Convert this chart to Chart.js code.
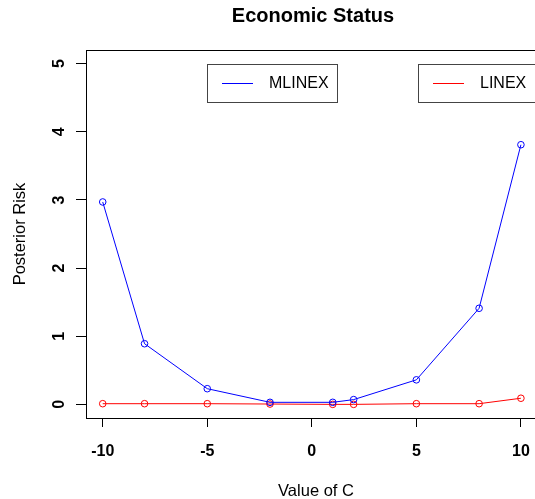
<!DOCTYPE html>
<html>
<head>
<meta charset="utf-8">
<script src="https://cdn.jsdelivr.net/npm/chart.js@4/dist/chart.umd.min.js"></script>
<style>
  html, body { margin: 0; padding: 0; background: #fff; overflow: hidden; }
  #wrap { width: 545px; height: 499px; }
</style>
</head>
<body>
<div id="wrap"><canvas id="c" width="545" height="499"></canvas></div>
<script>
const cValues = [-10, -8, -5, -2, 1, 2, 5, 8, 10];
const mlinex = [2.97, 0.89, 0.23, 0.03, 0.03, 0.07, 0.36, 1.41, 3.81];
const linex = [0.01, 0.01, 0.01, 0.005, 0.0, 0.0, 0.01, 0.01, 0.09];
const xTicks = [-10, -5, 0, 5, 10];
const yTicks = [0, 1, 2, 3, 4, 5];

const FONT = '"Liberation Sans", Arial, sans-serif';

const toPoints = ys => cValues.map((x, i) => ({ x, y: ys[i] }));

// R-style decorations: box, rotated y labels, titles, two legend boxes
const rDecor = {
  id: 'rDecor',
  afterDraw(chart) {
    const { ctx, chartArea: a, scales } = chart;
    ctx.save();
    ctx.strokeStyle = '#000';
    ctx.lineWidth = 1;
    ctx.strokeRect(a.left + 0.5, a.top + 0.5, a.right - a.left, a.bottom - a.top);

    ctx.fillStyle = '#000';
    ctx.font = 'bold 16px ' + FONT;
    ctx.textAlign = 'center';
    ctx.textBaseline = 'middle';
    yTicks.forEach(v => {
      const py = scales.y.getPixelForValue(v);
      ctx.save();
      ctx.translate(60, py);
      ctx.rotate(-Math.PI / 2);
      ctx.fillText(String(v), 0, 0);
      ctx.restore();
    });

    ctx.font = 'bold 20px ' + FONT;
    ctx.textBaseline = 'alphabetic';
    ctx.fillText('Economic Status', 313, 22);

    ctx.font = '16.5px ' + FONT;
    ctx.fillText('Value of C', 316, 496);
    ctx.save();
    ctx.translate(25, (a.top + a.bottom) / 2);
    ctx.rotate(-Math.PI / 2);
    ctx.fillText('Posterior Risk', 0, 0);
    ctx.restore();

    const legends = [
      { x: 207, w: 130, label: 'MLINEX', color: '#0000ff' },
      { x: 418, w: 130, label: 'LINEX', color: '#ff0000' }
    ];
    legends.forEach(l => {
      ctx.strokeStyle = '#444';
      ctx.strokeRect(l.x + 0.5, 64.5, l.w, 38);
      ctx.strokeStyle = l.color;
      ctx.beginPath();
      ctx.moveTo(l.x + 15, 83.5);
      ctx.lineTo(l.x + 46, 83.5);
      ctx.stroke();
      ctx.fillStyle = '#000';
      ctx.font = '16px ' + FONT;
      ctx.textAlign = 'left';
      ctx.textBaseline = 'middle';
      ctx.fillText(l.label, l.x + 62, 84);
    });
    ctx.restore();
  }
};

new Chart(document.getElementById('c'), {
  type: 'scatter',
  data: {
    datasets: [
      {
        label: 'MLINEX',
        data: toPoints(mlinex),
        showLine: true,
        borderColor: 'blue',
        borderWidth: 1,
        pointStyle: 'circle',
        pointRadius: 3.3,
        pointBorderWidth: 1,
        pointBackgroundColor: 'rgba(0,0,0,0)',
        pointBorderColor: 'blue'
      },
      {
        label: 'LINEX',
        data: toPoints(linex),
        showLine: true,
        borderColor: 'red',
        borderWidth: 1,
        pointRadius: 3.3,
        pointBorderWidth: 1,
        pointBackgroundColor: 'rgba(0,0,0,0)',
        pointBorderColor: 'red'
      }
    ]
  },
  options: {
    responsive: false,
    animation: false,
    layout: { padding: { left: 0, top: 50, right: 5, bottom: 0 } },
    plugins: { legend: { display: false }, tooltip: { enabled: false }, title: { display: false } },
    scales: {
      x: {
        type: 'linear',
        min: -10.8,
        max: 10.8,
        afterFit(s) { s.height = 81; },
        afterBuildTicks(s) { s.ticks = xTicks.map(v => ({ value: v })); },
        grid: { display: true, drawOnChartArea: false, drawTicks: true, tickLength: 9, color: '#000' },
        border: { display: true, color: '#000' },
        ticks: { color: '#000', padding: 15, font: { family: FONT, size: 16, weight: 'bold' }, maxRotation: 0 }
      },
      y: {
        type: 'linear',
        min: -0.2,
        max: 5.2,
        afterFit(s) { s.width = 86; },
        afterBuildTicks(s) { s.ticks = yTicks.map(v => ({ value: v })); },
        grid: { display: true, drawOnChartArea: false, drawTicks: true, tickLength: 10, color: '#000' },
        border: { display: true, color: '#000' },
        ticks: { display: false }
      }
    }
  },
  plugins: [rDecor]
});
</script>
</body>
</html>
